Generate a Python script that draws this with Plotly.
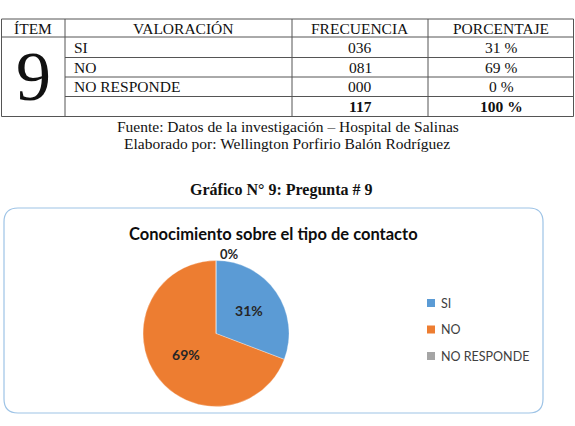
import plotly.graph_objects as go

# ---------------- data ----------------
item = "9"
table_headers = ["ÍTEM", "VALORACIÓN", "FRECUENCIA", "PORCENTAJE"]
categories = ["SI", "NO", "NO RESPONDE"]
frequencies = [36, 81, 0]
percent_labels = ["31 %", "69 %", "0 %"]
total_freq = "117"
total_pct = "100 %"
colors = ["#5B9BD5", "#ED7D31", "#A5A5A5"]

source_text = "Fuente: Datos de la investigación – Hospital de Salinas"
author_text = "Elaborado por: Wellington Porfirio Balón Rodríguez"
figure_caption = "Gráfico N° 9: Pregunta # 9"
chart_title = "Conocimiento sobre el tipo de contacto"

W, H = 575, 426


def px(x):
    return x / W


def py(y):
    return 1 - y / H


shapes = []
annotations = []

# ---------------- table ----------------
serif = "Liberation Serif, Times New Roman, serif"
line_col = "#555555"
col_x = [1.5, 65, 292, 428, 573.5]
row_y = [19, 37, 57.5, 77, 96.5, 116.5]


def hline(x0, x1, y):
    shapes.append(dict(type="line", xref="paper", yref="paper",
                       x0=px(x0), x1=px(x1), y0=py(y), y1=py(y),
                       line=dict(color=line_col, width=1)))


def vline(x, y0, y1):
    shapes.append(dict(type="line", xref="paper", yref="paper",
                       x0=px(x), x1=px(x), y0=py(y0), y1=py(y1),
                       line=dict(color=line_col, width=1)))


hline(col_x[0], col_x[-1], row_y[0])
hline(col_x[0], col_x[-1], row_y[1])
for yy in row_y[2:-1]:
    hline(col_x[1], col_x[-1], yy)
hline(col_x[0], col_x[-1], row_y[-1])
for xx in col_x:
    vline(xx, row_y[0], row_y[-1])


def txt(x, y, s, size=15.5, bold=False, xanchor="center", family=serif, color="#111111"):
    annotations.append(dict(x=px(x), y=py(y), xref="paper", yref="paper",
                            text=f"<b>{s}</b>" if bold else s, showarrow=False,
                            xanchor=xanchor, yanchor="middle", borderpad=0,
                            font=dict(family=family, size=size, color=color)))


# headers
head_centers = [33, 183, 360, 501]
for cx, h in zip(head_centers, table_headers):
    txt(cx, (row_y[0] + row_y[1]) / 2, h)

# big item number
txt(33, 76, item, size=70)

for i, (cat, fq, pc) in enumerate(zip(categories, frequencies, percent_labels)):
    yc = (row_y[i + 1] + row_y[i + 2]) / 2
    txt(73, yc, cat, xanchor="left")
    txt(360, yc, f"{fq:03d}")
    txt(501, yc, pc)
yc = (row_y[4] + row_y[5]) / 2
txt(360, yc, total_freq, bold=True)
txt(501, yc, total_pct, bold=True)

# footnotes / caption
txt(288, 126.5, source_text, size=15.5)
txt(287, 143.5, author_text, size=15.5)
txt(281, 190, figure_caption, size=16, bold=True)

# ---------------- chart box ----------------
bx0, by0, bx1, by1, r = 4, 208, 543, 413, 14
path = (f"M {px(bx0 + r)},{py(by0)} L {px(bx1 - r)},{py(by0)} "
        f"Q {px(bx1)},{py(by0)} {px(bx1)},{py(by0 + r)} "
        f"L {px(bx1)},{py(by1 - r)} Q {px(bx1)},{py(by1)} {px(bx1 - r)},{py(by1)} "
        f"L {px(bx0 + r)},{py(by1)} Q {px(bx0)},{py(by1)} {px(bx0)},{py(by1 - r)} "
        f"L {px(bx0)},{py(by0 + r)} Q {px(bx0)},{py(by0)} {px(bx0 + r)},{py(by0)} Z")
shapes.append(dict(type="path", xref="paper", yref="paper", path=path,
                   line=dict(color="#9DC3E6", width=1.2), layer="below"))

sans = "Lato, Open Sans, sans-serif"
txt(273, 233.5, chart_title, size=16.5, bold=True, family=sans, color="#0d0d0d")

# custom legend
leg_y = [303, 329.5, 356]
for cat, col, ly in zip(categories, colors, leg_y):
    shapes.append(dict(type="rect", xref="paper", yref="paper",
                       x0=px(427), x1=px(435), y0=py(ly - 4), y1=py(ly + 4),
                       fillcolor=col, line=dict(width=0)))
    txt(439.5, ly, cat, size=12.5, xanchor="left", family=sans, color="#404040")

# label for the empty (0 %) slice, which sits at the top of the pie
total = sum(frequencies)
zero_pct = round(100 * frequencies[2] / total)
txt(229, 253.5, f"{zero_pct}%", size=13, bold=True, family=sans, color="#262626")

# ---------------- pie ----------------
cx, cy, rad = 216, 333.5, 73
fig = go.Figure(go.Pie(
    labels=categories,
    values=frequencies,
    sort=False,
    direction="clockwise",
    rotation=0,
    marker=dict(colors=colors, line=dict(color="rgba(255,255,255,0.5)", width=0.6)),
    texttemplate="<b>%{percent:.0%}</b>",
    textposition=["inside", "inside", "none"],
    insidetextorientation="horizontal",
    textfont=dict(family=sans, size=14, color="#262626"),
    showlegend=False,
    hoverinfo="label+percent",
    domain=dict(x=[px(cx - rad), px(cx + rad)], y=[py(cy + rad), py(cy - rad)]),
))

fig.update_layout(
    width=W, height=H,
    margin=dict(l=0, r=0, t=0, b=0),
    paper_bgcolor="white",
    plot_bgcolor="white",
    shapes=shapes,
    annotations=annotations,
    showlegend=False,
)

fig.write_html("out.html")
